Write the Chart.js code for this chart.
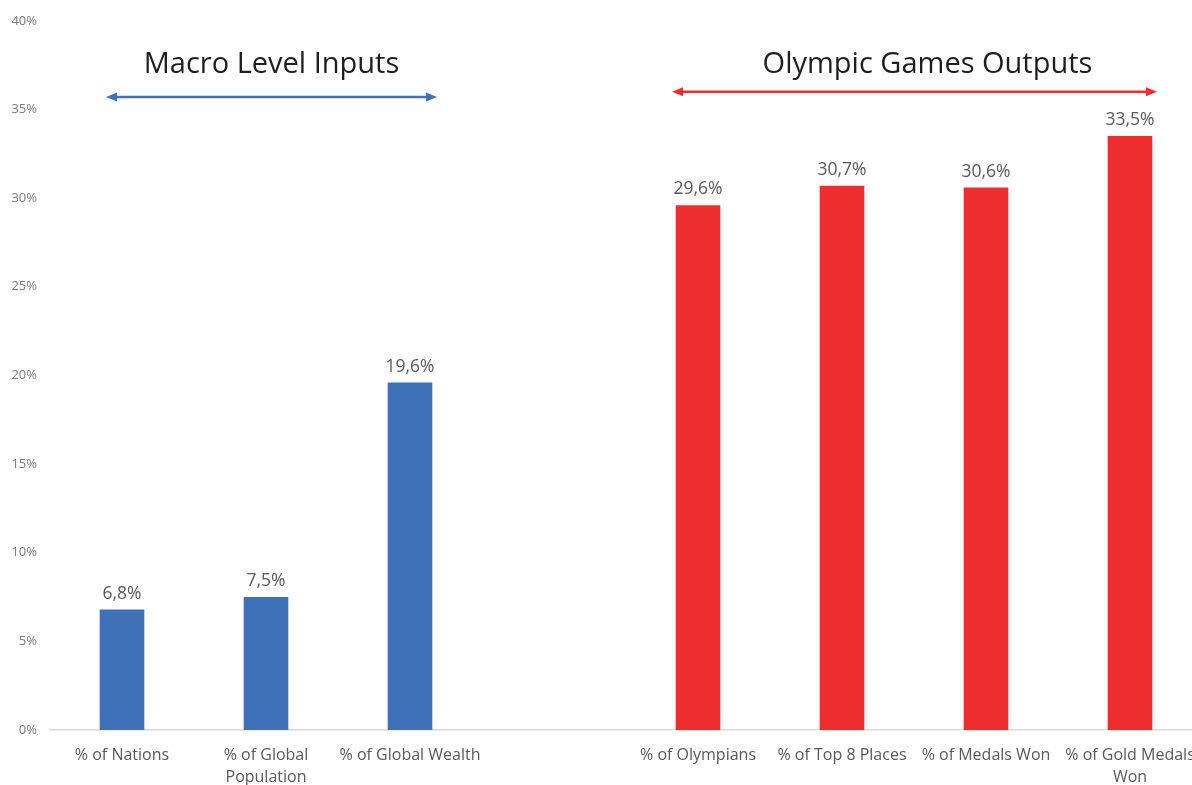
<!DOCTYPE html>
<html>
<head>
<meta charset="utf-8">
<script src="https://cdn.jsdelivr.net/npm/chart.js@4"></script>
<style>
  html, body { margin: 0; padding: 0; background: #fff; overflow: hidden; }
  #wrap { width: 1202px; height: 785px; }
</style>
</head>
<body>
<div id="wrap"><canvas id="myChart" width="1202" height="785"></canvas></div>
<script>
// categories (empty slot keeps the two groups apart)
var categories = [
    ["% of Nations"], ["% of Global", "Population"], ["% of Global Wealth"],
    [""],
    ["% of Olympians"], ["% of Top 8 Places"], ["% of Medals Won"], ["% of Gold Medals", "Won"]
];
var macroValues   = [6.8, 7.5, 19.6];
var olympicValues = [29.6, 30.7, 30.6, 33.5];
var yTicks = [0, 5, 10, 15, 20, 25, 30, 35, 40];

var BLUE = '#3e71b8';
var RED = '#ee2e2e';
var FONT = "'Open Sans', 'Noto Sans', sans-serif";

var values = macroValues.concat([null], olympicValues);
var colors = values.map(function(v, i){
    return i < macroValues.length ? BLUE : RED;
});

function fmt(v){
    return v.toFixed(1).replace('.', ',') + '%';
}

// value labels above each bar
var valueLabels = {
    id: 'valueLabels',
    afterDatasetsDraw: function(chart){
        var ctx = chart.ctx;
        var meta = chart.getDatasetMeta(0);
        ctx.save();
        ctx.font = '17.5px ' + FONT;
        ctx.fillStyle = '#595959';
        ctx.textAlign = 'center';
        ctx.textBaseline = 'bottom';
        meta.data.forEach(function(bar, i){
            var v = values[i];
            if(v == null) return;
            ctx.fillText(fmt(v), bar.x, bar.y - 7);
        });
        ctx.restore();
    }
};

// group headings with double-headed arrows
function arrow(ctx, x1, x2, y, color){
    var head = 11, half = 4.5;
    ctx.strokeStyle = color;
    ctx.fillStyle = color;
    ctx.lineWidth = 2.5;
    ctx.beginPath();
    ctx.moveTo(x1 + head - 2, y);
    ctx.lineTo(x2 - head + 2, y);
    ctx.stroke();
    ctx.beginPath();
    ctx.moveTo(x1, y);
    ctx.lineTo(x1 + head, y - half);
    ctx.lineTo(x1 + head, y + half);
    ctx.closePath();
    ctx.fill();
    ctx.beginPath();
    ctx.moveTo(x2, y);
    ctx.lineTo(x2 - head, y - half);
    ctx.lineTo(x2 - head, y + half);
    ctx.closePath();
    ctx.fill();
}

var groupHeadings = {
    id: 'groupHeadings',
    afterDraw: function(chart){
        var ctx = chart.ctx;
        var x = chart.scales.x, y = chart.scales.y;
        var groups = [
            {text: 'Macro Level Inputs', from: 0, to: 2, color: BLUE, textY: 37.5, arrowY: 35.7, l: -16, r: 27, dx: 0},
            {text: 'Olympic Games Outputs', from: 4, to: 7, color: RED, textY: 37.55, arrowY: 36.0, l: -26, r: 27, dx: 13}
        ];
        ctx.save();
        groups.forEach(function(g){
            var x1 = x.getPixelForValue(g.from) + g.l;
            var x2 = x.getPixelForValue(g.to) + g.r;
            ctx.font = '29px ' + FONT;
            ctx.fillStyle = '#1e1e1e';
            ctx.textAlign = 'center';
            ctx.textBaseline = 'middle';
            ctx.fillText(g.text, (x1 + x2) / 2 + g.dx, y.getPixelForValue(g.textY));
            arrow(ctx, x1, x2, y.getPixelForValue(g.arrowY), g.color);
        });
        ctx.restore();
    }
};

new Chart('myChart', {
    type: 'bar',
    data: {
        labels: categories,
        datasets: [{
            data: values,
            backgroundColor: colors,
            categoryPercentage: 1.0,
            barPercentage: 0.31
        }]
    },
    options: {
        responsive: false,
        animation: false,
        layout: { padding: { top: 19, left: 0, right: 0, bottom: 0 } },
        plugins: {
            legend: { display: false },
            tooltip: { enabled: false }
        },
        scales: {
            x: {
                grid: { display: false, drawTicks: false },
                border: { color: '#d9d9d9', width: 1.5 },
                ticks: {
                    font: { family: FONT, size: 16, lineHeight: 1.4 },
                    color: '#595959',
                    padding: 14,
                    maxRotation: 0,
                    autoSkip: false
                },
                afterFit: function(scale){
                    scale.height = 55;
                    // let the last label run past the edge instead of shrinking the plot
                    scale.paddingLeft = 0;
                    scale.paddingRight = 0;
                }
            },
            y: {
                min: 0,
                max: 40,
                grid: { display: false, drawTicks: false },
                border: { display: false },
                afterBuildTicks: function(scale){
                    scale.ticks = yTicks.map(function(v){ return {value: v}; });
                },
                ticks: {
                    font: { family: FONT, size: 13 },
                    color: '#7a7a7a',
                    padding: 13,
                    callback: function(v){ return v + '%'; }
                },
                afterFit: function(scale){ scale.width = 50; }
            }
        }
    },
    plugins: [valueLabels, groupHeadings]
});
</script>
</body>
</html>
